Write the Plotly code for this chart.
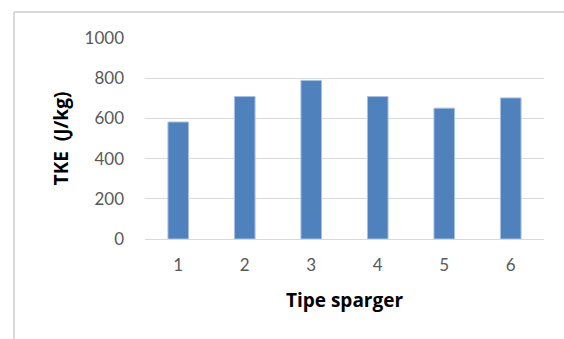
import plotly.graph_objects as go

# TKE per sparger type
sparger_types = ["1", "2", "3", "4", "5", "6"]
tke_values = [582, 709, 789, 709, 651, 702]
y_ticks = [0, 200, 400, 600, 800, 1000]

W, H = 564, 339
ml, mr, mt, mb = 145, 20, 38, 100

fig = go.Figure(
    go.Bar(
        x=sparger_types,
        y=tke_values,
        width=0.31,
        marker=dict(color="#4f81bd", line=dict(color="#a9c0e0", width=1)),
    )
)

# paper coordinates of the outer chart frame (left and top edges)
pw, ph = W - ml - mr, H - mt - mb
fx = (14 - ml) / pw
fy = (H - mb - 12) / ph
frame = dict(color="#d9d9d9", width=2)

fig.update_layout(
    width=W,
    height=H,
    margin=dict(l=ml, r=mr, t=mt, b=mb),
    plot_bgcolor="white",
    paper_bgcolor="white",
    showlegend=False,
    font=dict(family="Lato, Open Sans, sans-serif", color="#595959", size=17),
    shapes=[
        dict(type="line", xref="paper", yref="paper", x0=fx, x1=fx, y0=fy, y1=-2, line=frame),
        dict(type="line", xref="paper", yref="paper", x0=fx, x1=2, y0=fy, y1=fy, line=frame),
    ],
)

title_font = dict(family="Open Sans, Lato, sans-serif", size=19, color="#000000")

fig.update_xaxes(
    type="category",
    showgrid=False,
    showline=False,
    ticks="",
    ticklabelstandoff=14,
    tickfont=dict(size=17, color="#595959"),
    title=dict(text="<b>Tipe sparger</b>", font=title_font, standoff=19),
)

fig.update_yaxes(
    range=[0, 1000],
    tickvals=y_ticks,
    showgrid=True,
    gridcolor="#d9d9d9",
    gridwidth=1,
    zeroline=True,
    zerolinecolor="#d9d9d9",
    zerolinewidth=1,
    showline=False,
    ticks="",
    ticklabelstandoff=20,
    tickfont=dict(size=17, color="#595959"),
    title=dict(text="<b>TKE  (J/kg)</b>", font=title_font, standoff=10),
)

fig.write_html("out.html")
